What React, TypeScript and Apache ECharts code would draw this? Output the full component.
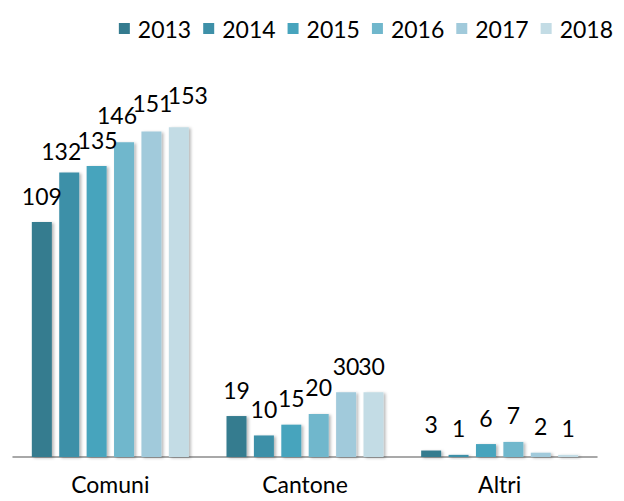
import React, { useEffect, useRef } from "react";
import * as echarts from "echarts";

const categories = ["Comuni", "Cantone", "Altri"];
const years = ["2013", "2014", "2015", "2016", "2017", "2018"];
const values2013 = [109, 19, 3];
const values2014 = [132, 10, 1];
const values2015 = [135, 15, 6];
const values2016 = [146, 20, 7];
const values2017 = [151, 30, 2];
const values2018 = [153, 30, 1];
const seriesValues = [values2013, values2014, values2015, values2016, values2017, values2018];
const colors = ["#347B8F", "#3E90A8", "#47A4BD", "#70B7CC", "#A1CADB", "#C3DCE5"];

// label nudges (style only) per year, per category: [dx, dy]
const labelNudges = [
  [[0, 0], [0, 0], [0, 0]],
  [[-8, 5], [0, 0], [0, 0]],
  [[1, 0], [0, 0], [0, 0]],
  [[-7, -1], [0, 0], [0, 0]],
  [[1, -2], [0, 0], [0, 0]],
  [[9, -6], [-2, 0], [0, 0]],
];

const FONT = "Lato, 'Open Sans', sans-serif";

export default function App() {
  const ref = useRef<HTMLDivElement>(null);
  useEffect(() => {
    if (!ref.current) return;
    const chart = echarts.init(ref.current, undefined, { renderer: "svg" });
    chart.setOption({
      animation: false,
      legend: {
        data: years,
        right: 6,
        top: 12,
        icon: "rect",
        itemWidth: 11,
        itemHeight: 11,
        itemGap: 12,
        textStyle: { fontFamily: FONT, fontSize: 23, color: "#000", padding: [0, 0, 0, 3] },
      },
      grid: { left: 13, right: 27, top: 69, bottom: 44 },
      xAxis: {
        type: "category",
        data: categories,
        axisTick: { show: false },
        axisLine: { lineStyle: { color: "#8c8c8c", width: 1.5 } },
        axisLabel: {
          fontFamily: FONT,
          fontSize: 23,
          lineHeight: 18,
          color: "#000",
          margin: 18,
        },
      },
      yAxis: { type: "value", min: 0, max: 180, show: false, splitLine: { show: false } },
      series: years.map((y, i) => ({
        name: y,
        type: "bar",
        data: seriesValues[i].map((v, j) => ({
          value: v,
          label: { offset: labelNudges[i][j] },
        })),
        barWidth: 20,
        barGap: "37%",
        itemStyle: {
          color: colors[i],
          shadowColor: "rgba(0,0,0,0.28)",
          shadowBlur: 3,
          shadowOffsetX: 2,
          shadowOffsetY: 1,
        },
        label: {
          show: true,
          position: "top",
          distance: 15,
          fontFamily: FONT,
          fontSize: 23,
          color: "#000",
        },
      })),
    });
    return () => chart.dispose();
  }, []);
  return (
    <div
      ref={ref}
      style={{ position: "absolute", left: 0, top: 0, width: 624, height: 501 }}
    />
  );
}
